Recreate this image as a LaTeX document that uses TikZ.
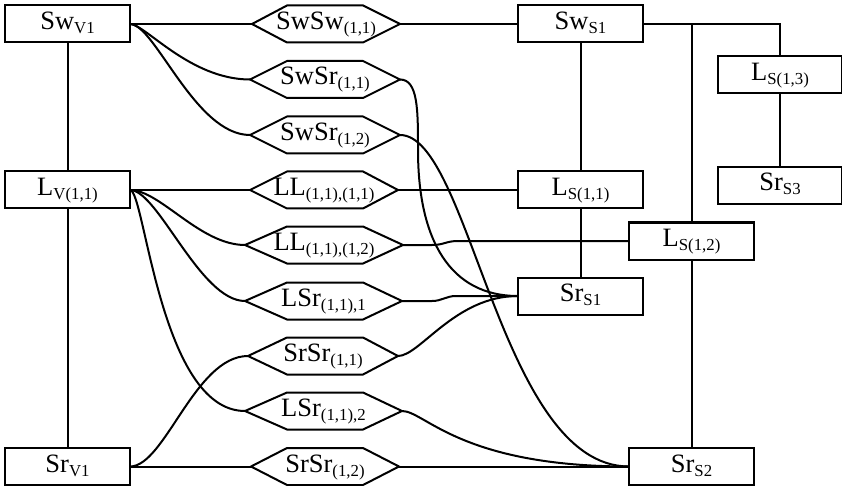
\documentclass[tikz,border=0pt]{standalone}
\usepackage{fontspec}
\setmainfont{Liberation Serif}
\newcommand\lsub[1]{\raisebox{-4pt}{\fontsize{16.8}{18}\selectfont #1}}
\newcommand\hexnodeat[5]{%
  \node[hexnode, minimum width={#3-#2}] (#1) at ({(#2+#3)/2},#4) {#5};
  \draw[hexline] (#1.west) -- (287,#4-18.5) -- (363,#4-18.5) -- (#1.east)
     -- (363,#4+18.5) -- (287,#4+18.5) -- cycle;}
\tikzset{
  txt/.style={font=\fontsize{26.5}{30}\selectfont, text height=18pt, text depth=7pt, inner sep=0pt, outer sep=0pt},
  box/.style={txt, draw, line width=2pt, minimum width=125pt, minimum height=37pt},
  hexnode/.style={txt, minimum height=37pt},
  hexline/.style={line width=2pt, line join=miter},
  conn/.style={line width=2pt},
}
\begin{document}
\begin{tikzpicture}[x=1pt,y=-1pt]
\useasboundingbox (0,0) rectangle (842,486);
% boxes
\node[box] (SwV1) at (67.5,24) {Sw\lsub{V1}};
\node[box] (LV) at (67.5,190) {L\lsub{V(1,1)}};
\node[box] (SrV1) at (67.5,466.5) {Sr\lsub{V1}};
\node[box] (SwS1) at (580.5,24) {Sw\lsub{S1}};
\node[box] (LS11) at (580.5,190) {L\lsub{S(1,1)}};
\node[box] (SrS1) at (580.5,296) {Sr\lsub{S1}};
\node[box] (LS12) at (691.5,241) {L\lsub{S(1,2)}};
\node[box] (SrS2) at (691.5,466.5) {Sr\lsub{S2}};
\node[box, minimum width=124pt] (LS13) at (780,75) {L\lsub{S(1,3)}};
\node[box, minimum width=124pt] (SrS3) at (780,185.5) {Sr\lsub{S3}};
% hexagons
\hexnodeat{SwSw}{252}{400}{24}{SwSw\lsub{(1,1)}}
\hexnodeat{SwSrA}{250}{400}{79.5}{SwSr\lsub{(1,1)}}
\hexnodeat{SwSrB}{250}{400}{135}{SwSr\lsub{(1,2)}}
\hexnodeat{LLA}{250}{398}{190}{LL\lsub{(1,1),(1,1)}}
\hexnodeat{LLB}{245}{403}{245}{LL\lsub{(1,1),(1,2)}}
\hexnodeat{LSrA}{245}{402}{301}{LSr\lsub{(1,1),1}}
\hexnodeat{SrSrA}{248}{398}{356}{SrSr\lsub{(1,1)}}
\hexnodeat{LSrB}{245}{402}{411}{LSr\lsub{(1,1),2}}
\hexnodeat{SrSrB}{251}{399}{466.5}{SrSr\lsub{(1,2)}}
% vertical links
\draw[conn] (SwV1) -- (LV);
\draw[conn] (LV) -- (SrV1);
\draw[conn] (SwS1) -- (LS11);
\draw[conn] (LS11) -- (SrS1);
\draw[conn] (LS12) -- (SrS2);
\draw[conn] (LS13) -- (SrS3);
\draw[conn] (SwS1.east) -| (LS12.north);
\draw[conn] (SwS1.east) -| (LS13.north);
% straight links
\draw[conn] (SwV1.east) -- (SwSw.west);
\draw[conn] (SwSw.east) -- (SwS1.west);
\draw[conn] (LV.east) -- (LLA.west);
\draw[conn] (LLA.east) -- (LS11.west);
\draw[conn] (SrV1.east) -- (SrSrB.west);
\draw[conn] (SrSrB.east) -- (SrS2.west);
% curved links left
\draw[conn] (SwV1.east) .. controls +(15,0) and +(-60,0) .. (SwSrA.west);
\draw[conn] (SwV1.east) .. controls +(25,0) and +(-55,0) .. (SwSrB.west);
\draw[conn] (LV.east) .. controls +(30,0) and +(-45,0) .. (LLB.west);
\draw[conn] (LV.east) .. controls +(28,0) and +(-45,0) .. (LSrA.west);
\draw[conn] (LV.east) .. controls +(15,0) and +(-85,0) .. (LSrB.west);
\draw[conn] (SrV1.east) .. controls +(35,0) and +(-53,0) .. (SrSrA.west);
% curved links right
\draw[conn] (SwSrA.east) .. controls +(18,0) and +(0,-40) .. (418,150)
   .. controls +(0,90) and +(-68,0) .. (SrS1.west);
\draw[conn] (SwSrB.east) .. controls +(70,0) and +(-129,0) .. (SrS2.west);
\draw[conn] (LLB.east) -- (432,245) .. controls (444,245) and (446,241) .. (458,241) -- (LS12.west);
\draw[conn] (LSrA.east) -- (432,301) .. controls (442,301) and (446,296) .. (456,296) -- (SrS1.west);
\draw[conn] (SrSrA.east) .. controls +(22,0) and +(-63,0) .. (SrS1.west);
\draw[conn] (LSrB.east) .. controls +(23,0) and +(-169,0) .. (SrS2.west);
\end{tikzpicture}
\end{document}
